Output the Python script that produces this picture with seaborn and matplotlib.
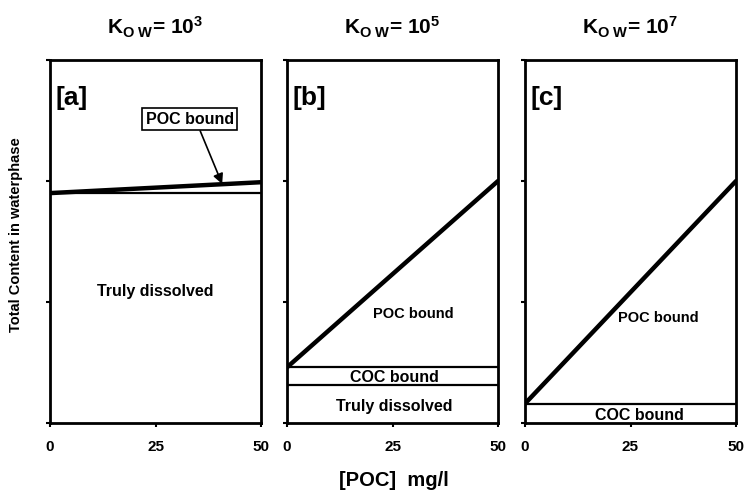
import matplotlib
matplotlib.use("Agg")
import matplotlib.pyplot as plt
import seaborn as sns
import pandas as pd

sns.set_theme(style="white")
plt.rcParams['font.family'] = ['Liberation Sans', 'DejaVu Sans']
plt.rcParams['font.weight'] = 'bold'
plt.rcParams['text.color'] = 'black'
plt.rcParams['axes.labelcolor'] = 'black'
plt.rcParams['xtick.color'] = 'black'
plt.rcParams['ytick.color'] = 'black'
plt.rcParams['mathtext.fontset'] = 'custom'
plt.rcParams['mathtext.rm'] = 'Liberation Sans:bold'
plt.rcParams['mathtext.bf'] = 'Liberation Sans:bold'
plt.rcParams['mathtext.it'] = 'Liberation Sans:bold'

# Data
poc = [0, 50]
panels = ["[a]", "[b]", "[c]"]
kow_exp = ["3", "5", "7"]
truly_dissolved = [1.9, 0.31, 0.0]
coc_bound = [0.0, 0.15, 0.16]
total_at_50 = [1.99, 2.0, 2.0]
x_ticks = [0, 25, 50]
y_ticks = [0, 1, 2, 3]

fig = plt.figure(figsize=(7.47, 4.95), dpi=100)
lefts = [50 / 747, 287 / 747, 525 / 747]
width = 211 / 747
bottom = 1 - 423 / 495
height = (423 - 60) / 495

axes = []
for i in range(3):
    ax = fig.add_axes([lefts[i], bottom, width, height])
    axes.append(ax)
    td = truly_dissolved[i]
    coc = td + coc_bound[i]
    df = pd.DataFrame({"poc": poc, "total": [coc, total_at_50[i]]})
    sns.lineplot(data=df, x="poc", y="total", ax=ax, color="black", linewidth=3.2)
    if td > 0:
        ax.axhline(td, color="black", linewidth=1.6)
    if coc_bound[i] > 0:
        ax.axhline(coc, color="black", linewidth=1.6)
    ax.set_xlim(0, 50)
    ax.set_ylim(0, 3)
    ax.set_xticks(x_ticks)
    ax.set_xticklabels([str(t) for t in x_ticks], fontsize=11, fontweight="bold")
    ax.set_yticks(y_ticks)
    ax.set_yticklabels([])
    ax.tick_params(axis="both", direction="out", length=3, width=1.5, color="black",
                   bottom=True, left=True)
    ax.tick_params(axis="x", pad=9)
    for s in ax.spines.values():
        s.set_color("black")
        s.set_linewidth(2)
    ax.set_xlabel("")
    ax.set_ylabel("")
    ax.set_title(r"$\mathrm{K_{O\ W}}$" + "= " + r"$\mathrm{10^{" + kow_exp[i] + "}}$",
                 fontsize=15, fontweight="bold", pad=18, color="black")
    ax.text(0.025, 0.895, panels[i], transform=ax.transAxes, fontsize=19,
            fontweight="bold", va="center", ha="left")

# Panel a annotations
axes[0].annotate("POC bound", xy=(40.8, 1.975), xytext=(33.1, 2.51), fontsize=11.5,
                 fontweight="bold", ha="center", va="center",
                 bbox=dict(boxstyle="square,pad=0.22", fc="white", ec="black", lw=1.2),
                 arrowprops=dict(arrowstyle="-|>", color="black", lw=1.2, relpos=(0.6, 0),
                                 mutation_scale=15, shrinkA=0, shrinkB=0))
axes[0].text(25, 1.09, "Truly dissolved", fontsize=11.5, fontweight="bold",
             ha="center", va="center")

# Panel b annotations
axes[1].text(30, 0.9, "POC bound", fontsize=10.5, fontweight="bold", ha="center", va="center")
axes[1].text(25.5, 0.375, "COC bound", fontsize=11.5, fontweight="bold", ha="center", va="center")
axes[1].text(25.5, 0.135, "Truly dissolved", fontsize=11.5, fontweight="bold", ha="center", va="center")

# Panel c annotations
axes[2].text(31.5, 0.87, "POC bound", fontsize=10.5, fontweight="bold", ha="center", va="center")
axes[2].text(27, 0.065, "COC bound", fontsize=11.5, fontweight="bold", ha="center", va="center")

fig.text(0.012, 0.525, "Total Content in waterphase", rotation=90, fontsize=10.5,
         fontweight="bold", ha="left", va="center")
fig.text(0.527, 0.03, "[POC]  mg/l", fontsize=14.5, fontweight="bold",
         ha="center", va="center")

fig.savefig("out.png", dpi=100)
